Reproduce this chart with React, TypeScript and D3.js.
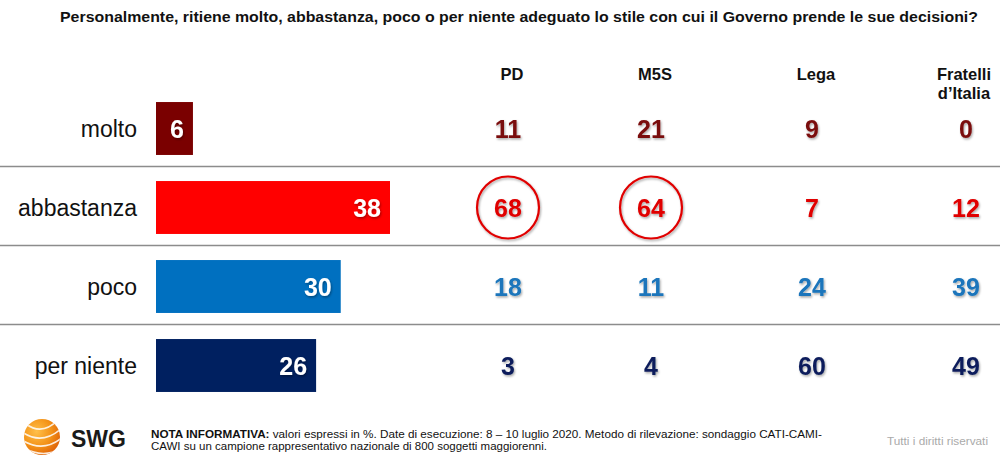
import React from "react";
import * as d3 from "d3";

const title =
  "Personalmente, ritiene molto, abbastanza, poco o per niente adeguato lo stile con cui il Governo prende le sue decisioni?";
const categories = ["molto", "abbastanza", "poco", "per niente"];
const totals = [6, 38, 30, 26];
const parties = ["PD", "M5S", "Lega", "Fratelli d’Italia"];
const pd = [11, 68, 18, 3];
const m5s = [21, 64, 11, 4];
const lega = [9, 7, 24, 60];
const fdi = [0, 12, 39, 49];
const partyValues = [pd, m5s, lega, fdi];
const circled = [
  { party: "PD", category: "abbastanza" },
  { party: "M5S", category: "abbastanza" },
];
const barColors = ["#7a0000", "#ff0000", "#0070c0", "#002060"];
const textColors = ["#7a0a0a", "#e00000", "#1a75bb", "#0c1f5c"];

const W = 1000;
const H = 464;
const FONT = "Liberation Sans, Arial, Helvetica, sans-serif";
const NARROW = "'Liberation Sans Narrow', 'Arial Narrow', Liberation Sans, Arial, sans-serif";

export default function App() {
  const x = d3.scaleLinear().domain([0, 38]).range([156, 390]);
  const y = d3
    .scaleBand<string>()
    .domain(categories)
    .range([89, 405])
    .paddingInner(0.33)
    .paddingOuter(0.165);
  const px = d3.scaleOrdinal<string, number>().domain(parties).range([508, 651, 812, 966]);
  const bw = y.bandwidth();

  return (
    <svg
      width={W}
      height={H}
      viewBox={`0 0 ${W} ${H}`}
      style={{ position: "absolute", left: 0, top: 0, background: "#fff" }}
    >
      <defs>
        <filter id="sh" x="-20%" y="-20%" width="140%" height="140%">
          <feDropShadow dx="1" dy="1.5" stdDeviation="0.9" floodColor="#000" floodOpacity="0.35" />
        </filter>
        <radialGradient id="orb" cx="35%" cy="35%" r="70%">
          <stop offset="0%" stopColor="#ffc04a" />
          <stop offset="60%" stopColor="#f39217" />
          <stop offset="100%" stopColor="#e0650a" />
        </radialGradient>
        <clipPath id="orbClip">
          <circle cx={42} cy={437} r={18} />
        </clipPath>
      </defs>
      <rect width={W} height={H} fill="#fff" />

      <text
        x={519}
        y={22}
        textAnchor="middle"
        fontFamily={NARROW}
        fontWeight="bold"
        fontSize={15}
        fill="#111"
        textLength={918}
        lengthAdjust="spacingAndGlyphs"
      >
        {title}
      </text>

      {parties.map((p) => {
        const lines = p === "Fratelli d’Italia" ? ["Fratelli", "d’Italia"] : [p];
        const dx = lines.length > 1 ? -2 : 4;
        return (
          <text
            key={p}
            x={px(p) + dx}
            y={80}
            textAnchor="middle"
            fontFamily={NARROW}
            fontWeight="bold"
            fontSize={16.5}
            fill="#111"
          >
            {lines.map((l, i) => (
              <tspan key={i} x={px(p) + dx} dy={i === 0 ? 0 : 19}>
                {l}
              </tspan>
            ))}
          </text>
        );
      })}

      {categories.slice(0, -1).map((c) => (
        <line
          key={c}
          x1={0}
          x2={W}
          y1={(y(c) as number) + bw + 11.5}
          y2={(y(c) as number) + bw + 11.5}
          stroke="#8c8c8c"
          strokeWidth={1.5}
        />
      ))}

      {categories.map((c, i) => {
        const y0 = y(c) as number;
        const cy = y0 + bw / 2;
        return (
          <g key={c}>
            <text
              x={137}
              y={cy + 8}
              textAnchor="end"
              fontFamily={FONT}
              fontSize={23}
              fill="#111"
            >
              {c}
            </text>
            <rect x={x(0)} y={y0} width={x(totals[i]) - x(0)} height={bw} fill={barColors[i]} />
            <text
              x={x(totals[i]) - 9}
              y={cy + 9}
              textAnchor="end"
              fontFamily={FONT}
              fontWeight="bold"
              fontSize={25}
              fill="#fff"
              filter="url(#sh)"
            >
              {totals[i]}
            </text>
            {parties.map((p, j) => (
              <text
                key={p}
                x={px(p)}
                y={cy + 9}
                textAnchor="middle"
                fontFamily={FONT}
                fontWeight="bold"
                fontSize={25}
                fill={textColors[i]}
                filter="url(#sh)"
              >
                {partyValues[j][i]}
              </text>
            ))}
          </g>
        );
      })}

      {circled.map((cObj) => (
        <circle
          key={cObj.party}
          cx={px(cObj.party)}
          cy={(y(cObj.category) as number) + bw / 2}
          r={31}
          fill="none"
          stroke="#e00000"
          strokeWidth={2.2}
          filter="url(#sh)"
        />
      ))}

      {/* footer */}
      <g>
        <circle cx={42} cy={437} r={18} fill="url(#orb)" />
        <g clipPath="url(#orbClip)" fill="none" stroke="#fff" strokeWidth={1.6} opacity={0.85}>
          <path d="M22,432 Q42,446 62,428" />
          <path d="M22,440 Q44,454 64,436" />
          <path d="M24,448 Q46,460 64,446" />
          <path d="M26,424 Q42,436 58,420" />
        </g>
        <text x={71} y={447} fontFamily={FONT} fontWeight="bold" fontSize={23} fill="#1a1a1a">
          SWG
        </text>
        <text
          x={151}
          y={438}
          fontFamily={FONT}
          fontSize={11}
          fill="#111"
          textLength={671}
          lengthAdjust="spacingAndGlyphs"
        >
          <tspan fontWeight="bold">NOTA INFORMATIVA:</tspan>
          <tspan> valori espressi in %. Date di esecuzione: 8 – 10 luglio 2020. Metodo di rilevazione: sondaggio CATI-CAMI-</tspan>
        </text>
        <text
          x={151}
          y={450}
          fontFamily={FONT}
          fontSize={11}
          fill="#111"
          textLength={396}
          lengthAdjust="spacingAndGlyphs"
        >
          CAWI su un campione rappresentativo nazionale di 800 soggetti maggiorenni.
        </text>
        <text
          x={887}
          y={445}
          fontFamily={FONT}
          fontSize={11}
          fill="#aaa"
          textLength={101}
          lengthAdjust="spacingAndGlyphs"
        >
          Tutti i diritti riservati
        </text>
      </g>
    </svg>
  );
}
